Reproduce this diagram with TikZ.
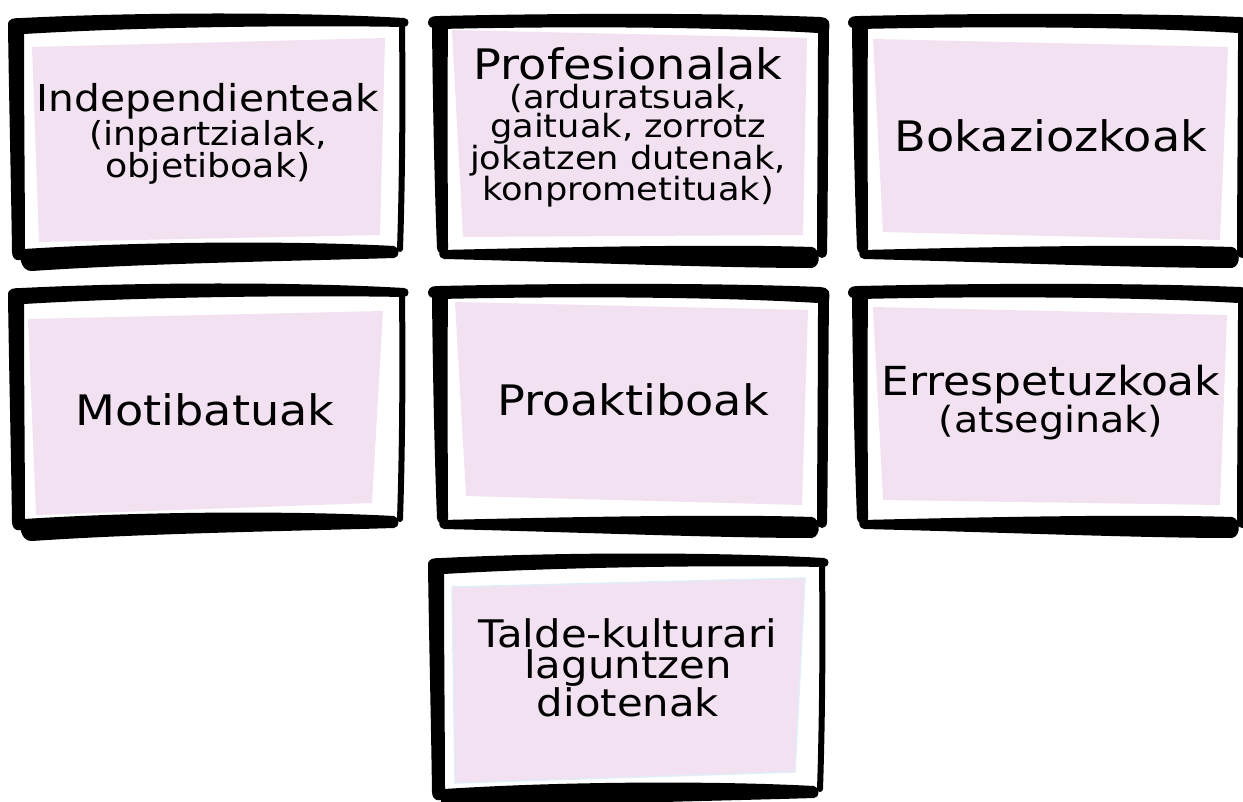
\documentclass[tikz,border=0pt]{standalone}
\usepackage{fontspec}
\setmainfont[FakeStretch=1.1]{DejaVu Sans}
\definecolor{pinkbg}{RGB}{242,225,240}
\definecolor{pinkedge}{RGB}{225,238,248}
\tikzset{
  pinkbox/.style={fill=pinkbg},
  ink/.style={fill=black},
  inkline/.style={draw=black,line cap=round},
  label/.style={inner sep=0pt, align=center, anchor=base, text=black},
}
\newcommand{\sketchA}{%
  \fill[ink] (8,25) .. controls (8,18) and (14,18) .. (22,18) .. controls (140,12) and (300,12) .. (404,18) .. controls (410,18) and (410,27) .. (404,27) .. controls (300,25) and (140,27) .. (24,34) .. controls (24,120) and (25,200) .. (25,252) .. controls (25,263) and (12,263) .. (12,252) .. controls (11,180) and (9,100) .. (8,25) -- cycle;
  \fill[ink] (24,249) .. controls (150,241) and (300,241) .. (394,246) .. controls (400,247) and (400,258) .. (394,258) .. controls (300,261) and (150,263) .. (32,271) .. controls (20,272) and (17,251) .. (24,249) -- cycle;
  \draw[inkline,line width=6pt] (402,26) .. controls (403,110) and (402,190) .. (400,249);
}
\newcommand{\sketchB}{%
  \fill[ink] (8,22) .. controls (9,16) and (14,16) .. (20,16) .. controls (150,13) and (300,13) .. (400,17) .. controls (410,18) and (410,22) .. (409,30) .. controls (408,120) and (408,200) .. (407,252) .. controls (407,260) and (397,260) .. (397,252) .. controls (397,200) and (398,120) .. (398,33) .. controls (300,27) and (150,26) .. (20,29) .. controls (10,29) and (8,26) .. (8,22) -- cycle;
  \fill[ink] (12,28) .. controls (13,120) and (15,200) .. (17,248) .. controls (18,256) and (28,256) .. (28,248) .. controls (28,200) and (27,120) .. (28,28) -- cycle;
  \fill[ink] (22,250) .. controls (150,247) and (300,244) .. (392,247) .. controls (400,248) and (402,266) .. (392,268) .. controls (300,268) and (150,262) .. (24,259) .. controls (18,258) and (18,251) .. (22,250) -- cycle;
}
\begin{document}
\begin{tikzpicture}[x=1pt,y=-1pt]
\useasboundingbox (0,0) rectangle (1243,802);
% pink panels
\fill[pinkbox] (32,47) -- (385,38) -- (380,235) -- (39,242) -- cycle;
\fill[pinkbox] (452,30) -- (807,38) -- (803,235) -- (463,237) -- cycle;
\fill[pinkbox] (873,39) -- (1228,47) -- (1220,240) -- (883,232) -- cycle;
\fill[pinkbox] (28,319) -- (383,311) -- (372,503) -- (36,515) -- cycle;
\fill[pinkbox] (455,302) -- (808,310) -- (802,505) -- (466,496) -- cycle;
\fill[pinkbox] (873,307) -- (1227,315) -- (1220,505) -- (883,500) -- cycle;
\fill[pinkbox,draw=pinkedge,line width=1.5pt] (452,587) -- (805,578) -- (795,772) -- (455,783) -- cycle;
% frames
\begin{scope}[shift={(0,0)}]\sketchA\end{scope}
\begin{scope}[shift={(420,0)}]\sketchB\end{scope}
\begin{scope}[shift={(840,0)}]\sketchB\end{scope}
\begin{scope}[shift={(0,270)}]\sketchA\end{scope}
\begin{scope}[shift={(420,270)}]\sketchB\end{scope}
\begin{scope}[shift={(840,270)}]\sketchB\end{scope}
\begin{scope}[shift={(420,540)}]\sketchA\end{scope}
% texts (anchor base = baseline of the last line)
\node[label,font=\fontsize{33}{27}\selectfont] (t1) at (208,178)
  {{\fontsize{37}{27}\selectfont Independienteak}\\(inpartzialak,\\objetiboak)};
\node[label,font=\fontsize{32}{29}\selectfont] (t2) at (628,201)
  {{\fontsize{42}{29}\selectfont Profesionalak}\\(arduratsuak,\\gaituak, zorrotz\\jokatzen dutenak,\\konprometituak)};
\node[label,font=\fontsize{42}{29}\selectfont] (t3) at (1051,152) {Bokaziozkoak};
\node[label,font=\fontsize{42}{29}\selectfont] (t4) at (205,425) {Motibatuak};
\node[label,font=\fontsize{42}{29}\selectfont] (t5) at (633,415) {Proaktiboak};
\node[label,font=\fontsize{36}{27}\selectfont] (t6) at (1051,432)
  {{\fontsize{40}{27}\selectfont Errespetuzkoak}\\(atseginak)};
\node[label,font=\fontsize{38}{27}\selectfont] (t7) at (628,716)
  {Talde-kulturari\\laguntzen\\diotenak};
\end{tikzpicture}
\end{document}
